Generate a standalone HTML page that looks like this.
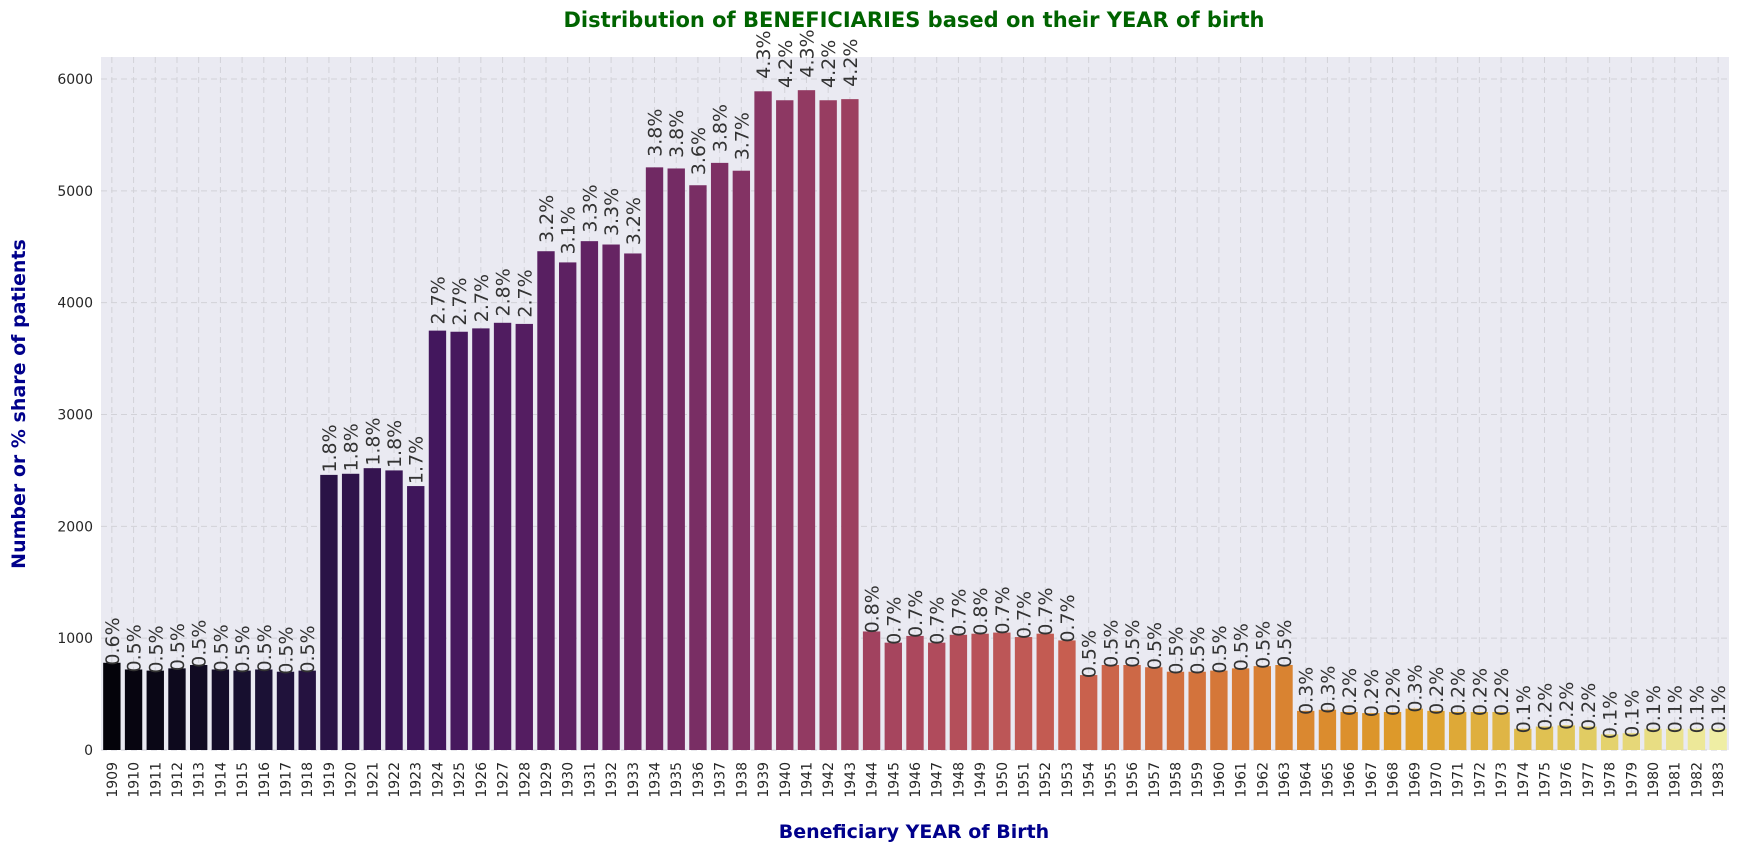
<!DOCTYPE html>
<html><head><meta charset="utf-8"><style>
body{margin:0;background:#fff;}
svg{display:block;font-family:"DejaVu Sans","Liberation Sans",sans-serif;}
</style></head><body>
<svg id="chart" width="1738" height="852" xmlns="http://www.w3.org/2000/svg">
<text x="914" y="27" text-anchor="middle" font-size="21" font-weight="bold" fill="#006400">Distribution of BENEFICIARIES based on their YEAR of birth</text>
<rect x="101" y="57" width="1628" height="693" fill="#eaeaf2"/>
<g id="grid"></g>
<g id="bars"></g>
<g id="labels"></g>
<g id="yticks"></g>
<g id="xticks"></g>
<text x="914" y="838" text-anchor="middle" font-size="19" font-weight="bold" fill="#00008b">Beneficiary YEAR of Birth</text>
<text transform="translate(25,404) rotate(-90)" text-anchor="middle" font-size="19" font-weight="bold" fill="#00008b">Number or % share of patients</text>
</svg>
<script>
const years = [];
for (let y = 1909; y <= 1983; y++) years.push(String(y));
const counts = [780,720,710,730,760,720,710,720,700,710,
2460,2470,2520,2500,2360,
3750,3740,3770,3820,3810,
4460,4360,4550,4520,4440,
5210,5200,5050,5250,5180,
5890,5810,5900,5810,5820,
1060,960,1020,960,1030,1040,1050,1010,1040,980,
670,760,760,740,700,700,710,730,750,760,
350,360,340,330,340,370,350,340,340,340,
190,210,220,210,140,150,190,190,190,190];
const shares = ["0.6%","0.5%","0.5%","0.5%","0.5%","0.5%","0.5%","0.5%","0.5%","0.5%",
"1.8%","1.8%","1.8%","1.8%","1.7%",
"2.7%","2.7%","2.7%","2.8%","2.7%",
"3.2%","3.1%","3.3%","3.3%","3.2%",
"3.8%","3.8%","3.6%","3.8%","3.7%",
"4.3%","4.2%","4.3%","4.2%","4.2%",
"0.8%","0.7%","0.7%","0.7%","0.7%","0.8%","0.7%","0.7%","0.7%","0.7%",
"0.5%","0.5%","0.5%","0.5%","0.5%","0.5%","0.5%","0.5%","0.5%","0.5%",
"0.3%","0.3%","0.2%","0.2%","0.2%","0.3%","0.2%","0.2%","0.2%","0.2%",
"0.1%","0.2%","0.2%","0.2%","0.1%","0.1%","0.1%","0.1%","0.1%","0.1%"];
const yTicks = [0,1000,2000,3000,4000,5000,6000];

const NS="http://www.w3.org/2000/svg";
const L=101,R=1729,T=57,B=750;
const step=(R-L)/years.length;
const xc=i=>L+step*(i+0.5);
const yv=v=>B-v*(B-79)/6000;
function mk(tag,attrs,parent){const e=document.createElementNS(NS,tag);for(const k in attrs)e.setAttribute(k,attrs[k]);document.getElementById(parent).appendChild(e);return e;}
const stops=[[0,0,0,4],[0.1,22,11,57],[0.2,66,10,104],[0.3,106,23,110],[0.4,147,38,103],[0.5,188,55,84],[0.6,221,81,58],[0.7,243,120,25],[0.8,252,165,10],[0.9,246,215,70],[1,252,255,164]];
function rgb2hls(r,g,b){const mx=Math.max(r,g,b),mn=Math.min(r,g,b),l=(mx+mn)/2;if(mx===mn)return[0,l,0];const d=mx-mn;const s=l<=0.5?d/(mx+mn):d/(2-mx-mn);let h;if(mx===r)h=((g-b)/d)%6;else if(mx===g)h=(b-r)/d+2;else h=(r-g)/d+4;return[h/6,l,s];}
function hue(m1,m2,h){h=((h%1)+1)%1;if(h<1/6)return m1+(m2-m1)*h*6;if(h<0.5)return m2;if(h<2/3)return m1+(m2-m1)*(2/3-h)*6;return m1;}
function hls2rgb(h,l,s){if(s===0)return[l,l,l];const m2=l<=0.5?l*(1+s):l+s-l*s,m1=2*l-m2;return[hue(m1,m2,h+1/3),hue(m1,m2,h),hue(m1,m2,h-1/3)];}
function inferno(t){let c=[252,255,164];for(let i=1;i<stops.length;i++){if(t<=stops[i][0]){const a=stops[i-1],b=stops[i],f=(t-a[0])/(b[0]-a[0]);c=[a[1]+f*(b[1]-a[1]),a[2]+f*(b[2]-a[2]),a[3]+f*(b[3]-a[3])];break;}}
 const [h,l,s]=rgb2hls(c[0]/255,c[1]/255,c[2]/255);const o=hls2rgb(h,l,s*0.75);
 return `rgb(${Math.round(o[0]*255)},${Math.round(o[1]*255)},${Math.round(o[2]*255)})`;}
yTicks.forEach(v=>{
 const g=mk('line',{x1:L,x2:R,y1:yv(v),y2:yv(v),stroke:'#d2d2d8','stroke-dasharray':'6,4'},'grid');
 
 
 const t=mk('text',{x:L-8,y:yv(v)+5,'text-anchor':'end','font-size':14,fill:'#262626'},'yticks');
 t.textContent=v;
 
 
});
years.forEach((yr,i)=>{
 const g=mk('line',{x1:xc(i),x2:xc(i),y1:T,y2:B,stroke:'#d2d2d8','stroke-dasharray':'6,4'},'grid');
 
 
 const bw=step*0.8;
 const b=mk('rect',{x:xc(i)-bw/2,y:yv(counts[i]),width:bw,height:B-yv(counts[i]),fill:inferno((i+1)/(years.length+1))},'bars');
 
 
 const cy=yv(counts[i])-(19+0.003*counts[i]);
 const lb=mk('text',{transform:`translate(${xc(i)+7},${cy}) rotate(-90)`,'text-anchor':'middle','font-size':19,fill:'#333'},'labels');
 lb.textContent=shares[i];
 
 
 const tk=mk('text',{transform:`translate(${xc(i)+5},${762}) rotate(-90)`,'text-anchor':'end','font-size':14,fill:'#262626'},'xticks');
 tk.textContent=yr;
 
 
});
</script>
</body></html>
